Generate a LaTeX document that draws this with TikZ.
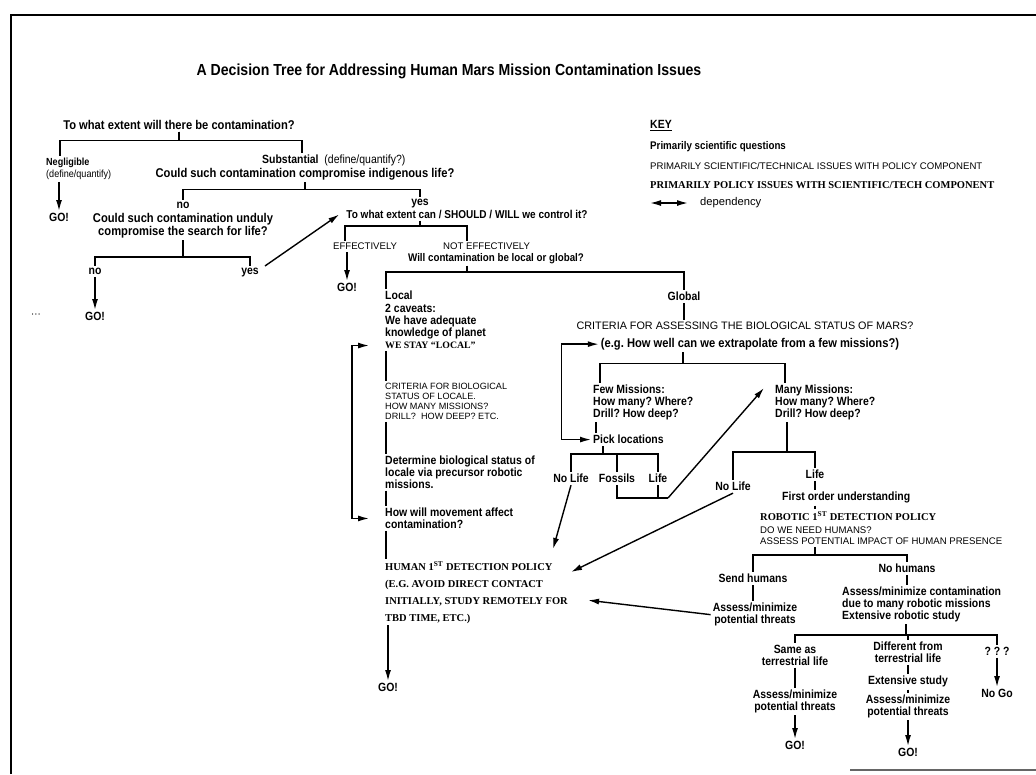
\documentclass[tikz,border=0pt]{standalone}
\usepackage{fontspec}
\setmainfont[FakeStretch=0.88]{Liberation Sans}
\newfontfamily\techfont{Liberation Sans}
\newfontfamily\policyfont{Liberation Serif}
\usetikzlibrary{arrows.meta}
\frenchspacing
\tikzstyle{sci} = [font=\bfseries\fontsize{11.9}{11.8}\selectfont, inner sep=2pt, align=center]
\tikzstyle{scibig} = [font=\bfseries\fontsize{12.7}{11.8}\selectfont, inner sep=2pt, align=center]
\tikzstyle{scism} = [font=\bfseries\fontsize{11.1}{11.8}\selectfont, inner sep=2pt, align=center]
\tikzstyle{tech} = [font=\techfont\fontsize{9.6}{10.8}\selectfont, inner sep=2pt, align=left]
\tikzstyle{pol} = [font=\policyfont\bfseries\fontsize{10.5}{17}\selectfont, inner sep=2pt, align=left]
\tikzstyle{conn} = [line width=1.4pt]
\tikzstyle{arrow} = [line width=1.4pt,->,>={Latex[length=11pt,width=6pt]}]
\tikzstyle{dep} = [line width=1.4pt,<->,>={Latex[length=11pt,width=6pt]}]

\begin{document}
\begin{tikzpicture}[x=1pt,y=-1pt]
	\path[use as bounding box] (0,0) rectangle (1036,774);
	\draw[line width=2.5pt] (11,774) -- (11,15) -- (1036,15);
	\draw[line width=1.2pt, black!60] (850,770) -- (1036,770);

	\node (title) [font=\bfseries\fontsize{16}{18}\selectfont, inner sep=0pt, anchor=north] at (449,64) {A Decision Tree for Addressing Human Mars Mission Contamination Issues};

	% key
	\node (key) [sci, anchor=north west] at (648,118) {\underline{KEY}};
	\node (k1) [scism, anchor=north west] at (648,139) {Primarily scientific questions};
	\node (k2) [tech, anchor=north west] at (648,160) {PRIMARILY SCIENTIFIC/TECHNICAL ISSUES WITH POLICY COMPONENT};
	\node (k3) [pol, anchor=north west] at (648,179) {PRIMARILY POLICY ISSUES WITH SCIENTIFIC/TECH COMPONENT};
	\node (k4) [tech, font=\techfont\fontsize{11.2}{12}\selectfont, anchor=west] at (698,203) {dependency};
	\coordinate (kl) at (650,203);
	\coordinate (kr) at (688,203);
	\draw [dep] (kl) -- (kr);

	% contamination questions
	\node (q1) [scibig, anchor=north] at (179,118) {To what extent will there be contamination?};
	\node (negl) [scism, font=\bfseries\fontsize{10.3}{11.8}\selectfont, anchor=north west, align=left] at (44,156) {Negligible\\{\mdseries (define/quantify)}};
	\node (go0) [sci, anchor=north] at (59,211) {GO!};
	\node (subst) [sci, anchor=north west, align=left] at (260,153) {Substantial\ \ {\mdseries (define/quantify?)}};
	\node (q2) [scibig, anchor=north] at (305,166) {Could such contamination compromise indigenous life?};
	\node (no1) [sci, anchor=north] at (183,200) {no};
	\node (q3) [scibig, anchor=north] at (183,211) {Could such contamination unduly\\compromise the search for life?};
	\node (no2) [sci, anchor=north] at (95,266) {no};
	\node (yes2) [sci, anchor=north] at (250,266) {yes};
	\node (go1) [sci, anchor=north] at (95,310) {GO!};
	\node (dots) [font=\fontsize{11}{11}\selectfont, inner sep=0pt] at (36,316) {···};
	\node (yes1) [sci, anchor=north] at (420,197) {yes};
	\node (q4) [sci, font=\bfseries\fontsize{11.4}{11.8}\selectfont, anchor=north] at (467,208) {To what extent can / SHOULD / WILL we control it?};
	\node (eff) [tech, anchor=north west] at (331,241) {EFFECTIVELY};
	\node (noteff) [tech, anchor=north west] at (441,241) {NOT EFFECTIVELY};
	\node (q5) [scism, anchor=north] at (496,251) {Will contamination be local or global?};
	\node (go2) [sci, anchor=north] at (347,281) {GO!};

	\draw [conn] (q1.south) -- ++(0,9) -| ([xshift=16pt]negl.north west);
	\draw [conn] (q1.south) -- ++(0,9) -| ([xshift=42pt]subst.north west);
	\draw [arrow] (negl.south west -| go0.north) -- (go0.north);
	\draw [conn] (q2.south) -- ++(0,7) -| (no1.north);
	\draw [conn] (q2.south) -- ++(0,7) -| (yes1.north);
	\draw [conn] (q3.south) -- ++(0,17) -| (no2.north);
	\draw [conn] (q3.south) -- ++(0,17) -| (yes2.north);
	\draw [arrow] (no2.south) -- (go1.north);
	\draw [arrow] ([xshift=4pt]yes2.north east) -- ([xshift=-5pt]q4.west);
	\draw [conn] (q4.south -| yes1.south) -- ++(0,5) -| ([xshift=14pt]eff.north west);
	\draw [conn] (q4.south -| yes1.south) -- ++(0,5) -| ([xshift=26pt]noteff.north west);
	\draw [arrow] (eff.south west -| go2.north) -- (go2.north);

	% local branch
	\node (local) [sci, font=\bfseries\fontsize{11.9}{12.3}\selectfont, anchor=north west, align=left] at (383,289) {Local\\2 caveats:\\We have adequate\\knowledge of planet};
	\node (stay) [pol, font=\policyfont\bfseries\fontsize{9.8}{11}\selectfont, anchor=north west] at (383,340) {WE STAY “LOCAL”};
	\node (crit1) [tech, font=\techfont\fontsize{9.1}{10}\selectfont, anchor=north west] at (383,381) {CRITERIA FOR BIOLOGICAL\\STATUS OF LOCALE.\\HOW MANY MISSIONS?\\DRILL?\ \ HOW DEEP? ETC.};
	\node (det) [sci, anchor=north west, align=left] at (383,454) {Determine biological status of\\locale via precursor robotic\\missions.};
	\node (move) [sci, anchor=north west, align=left] at (383,506) {How will movement affect\\contamination?};
	\node (human) [pol, anchor=north west] at (383,559) {HUMAN 1\textsuperscript{ST} DETECTION POLICY\\(E.G. AVOID DIRECT CONTACT\\INITIALLY, STUDY REMOTELY FOR\\TBD TIME, ETC.)};
	\node (go3) [sci, anchor=north] at (388,681) {GO!};

	% global branch
	\node (global) [sci, anchor=north] at (684,290) {Global};
	\node (critg) [tech, font=\techfont\fontsize{10.8}{11}\selectfont, anchor=north] at (745,320) {CRITERIA FOR ASSESSING THE BIOLOGICAL STATUS OF MARS?};
	\node (eg) [scibig, anchor=north] at (750,336) {(e.g. How well can we extrapolate from a few missions?)};
	\node (few) [sci, anchor=north west, align=left] at (591,383) {Few Missions:\\How many? Where?\\Drill? How deep?};
	\node (many) [sci, anchor=north west, align=left] at (773,383) {Many Missions:\\How many? Where?\\Drill? How deep?};
	\node (pick) [sci, anchor=north west] at (591,433) {Pick locations};
	\node (nolife1) [sci, anchor=north] at (571,472) {No Life};
	\node (fossils) [sci, anchor=north] at (617,472) {Fossils};
	\node (life1) [sci, anchor=north] at (658,472) {Life};
	\coordinate (fl) at (668,498);
	\node (nolife2) [sci, anchor=north] at (733,480) {No Life};
	\node (life2) [sci, anchor=north] at (815,468) {Life};
	\node (first) [sci, anchor=north west] at (780,490) {First order understanding};
	\node (rob) [pol, anchor=north west] at (758,509) {ROBOTIC 1\textsuperscript{ST} DETECTION POLICY};
	\node (robq) [tech, anchor=north west] at (758,525) {DO WE NEED HUMANS?\\ASSESS POTENTIAL IMPACT OF HUMAN PRESENCE};
	\node (send) [sci, anchor=north] at (753,572) {Send humans};
	\node (sendA) [sci, anchor=north] at (755,601) {Assess/minimize\\potential threats};
	\node (nohum) [sci, anchor=north] at (907,562) {No humans};
	\node (nohumA) [sci, anchor=north west, align=left] at (840,585) {Assess/minimize contamination\\due to many robotic missions\\Extensive robotic study};
	\node (same) [sci, anchor=north] at (795,643) {Same as\\terrestrial life};
	\node (sameA) [sci, anchor=north] at (795,688) {Assess/minimize\\potential threats};
	\node (go4) [sci, anchor=north] at (795,739) {GO!};
	\node (diff) [sci, anchor=north] at (908,640) {Different from\\terrestrial life};
	\node (ext) [sci, anchor=north] at (908,674) {Extensive study};
	\node (diffA) [sci, anchor=north] at (908,693) {Assess/minimize\\potential threats};
	\node (go5) [sci, anchor=north] at (908,746) {GO!};
	\node (qqq) [sci, anchor=north] at (997,645) {? ? ?};
	\node (nogo) [sci, anchor=north] at (997,687) {No Go};

	\draw [conn] (q5.south) ++(-29,0) -- ++(0,6) -| ([xshift=3pt]local.north west);
	\draw [conn] (q5.south) ++(-29,0) -- ++(0,6) -| (global.north);
	\draw [conn] ([xshift=3pt]stay.south west) -- ([xshift=3pt]crit1.north west);
	\draw [conn] ([xshift=3pt]crit1.south west) -- ([xshift=3pt]det.north west);
	\draw [conn] ([xshift=3pt]det.south west) -- ([xshift=3pt]move.north west);
	\draw [conn] ([xshift=3pt]move.south west) -- ([xshift=3pt]human.north west);
	\draw [arrow] (human.south west -| go3.north) -- (go3.north);
	\draw [dep] ([xshift=-14pt]stay.west) -- ++(-17,0) |- ([xshift=-14pt]move.west);

	\draw [conn] (global.south) -- (global.south |- critg.north);
	\draw [conn] (eg.south) ++(-67,0) -- ++(0,11) -| ([xshift=9pt]few.north west);
	\draw [conn] (eg.south) ++(-67,0) -- ++(0,11) -| ([xshift=12pt]many.north west);
	\draw [dep] (eg.west) -- ++(-37,0) |- (pick.west);
	\draw [conn] ([xshift=5pt]few.south west) -- ([xshift=5pt]pick.north west);
	\draw [conn] ([xshift=12pt]pick.south west) -- ++(0,8) -| (nolife1.north);
	\draw [conn] ([xshift=12pt]pick.south west) -- ++(0,8) -| (fossils.north);
	\draw [conn] ([xshift=12pt]pick.south west) -- ++(0,8) -| (life1.north);
	\draw [conn] (fossils.south) |- (fl);
	\draw [conn] (life1.south) -- (life1.south |- fl);
	\draw [arrow] (fl) -- ([shift={(-9,5)}]many.north west);
	\draw [arrow] (nolife1.south) -- ([shift={(-17,-10)}]human.north east);

	\draw [conn] ([xshift=14pt]many.south west) -- ++(0,30) -| (nolife2.north);
	\draw [conn] ([xshift=14pt]many.south west) -- ++(0,30) -| (life2.north);
	\draw [conn] (life2.south) -- (life2.south |- first.north);
	\draw [conn] (first.south -| life2.south) -- (rob.north -| life2.south);
	\draw [arrow] (nolife2.south) -- ([shift={(1,13)}]human.north east);
	\draw [conn] (robq.south -| life2.south) -- ++(0,8) -| (send.north);
	\draw [conn] (robq.south -| life2.south) -- ++(0,8) -| (nohum.north);
	\draw [conn] (send.south) -- (send.south |- sendA.north);
	\draw [arrow] (sendA.west) -- ([shift={(18,8)}]human.east);
	\draw [conn] (nohum.south) -- (nohum.south |- nohumA.north);
	\draw [conn] ([xshift=66pt]nohumA.south west) -- ++(0,11) -| (same.north);
	\draw [conn] ([xshift=66pt]nohumA.south west) -- ++(0,11) -| (diff.north);
	\draw [conn] ([xshift=66pt]nohumA.south west) -- ++(0,11) -| (qqq.north);
	\draw [conn] (same.south) -- (sameA.north);
	\draw [arrow] (sameA.south) -- (go4.north);
	\draw [conn] (diff.south) -- (ext.north);
	\draw [conn] (ext.south) -- (diffA.north);
	\draw [arrow] (diffA.south) -- (go5.north);
	\draw [arrow] (qqq.south) -- (nogo.north);
\end{tikzpicture}
\end{document}
